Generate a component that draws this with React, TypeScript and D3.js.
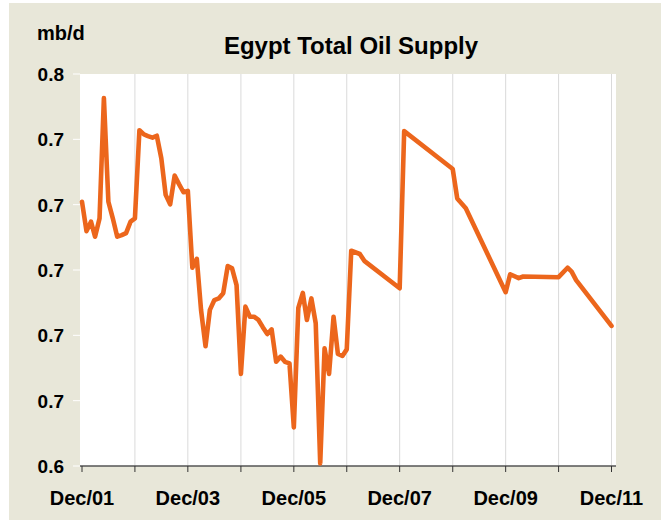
import React from 'react';
import * as d3 from 'd3';

// monthly observations (sparser after 2007)
const months = [
  '2001-12', '2002-01', '2002-02', '2002-03', '2002-04', '2002-05', '2002-06', '2002-07',
  '2002-08', '2002-09', '2002-10', '2002-11', '2002-12', '2003-01', '2003-02', '2003-03',
  '2003-04', '2003-05', '2003-06', '2003-07', '2003-08', '2003-09', '2003-10', '2003-11',
  '2003-12', '2004-01', '2004-02', '2004-03', '2004-04', '2004-05', '2004-06', '2004-07',
  '2004-08', '2004-09', '2004-10', '2004-11', '2004-12', '2005-01', '2005-02', '2005-03',
  '2005-04', '2005-05', '2005-06', '2005-07', '2005-08', '2005-09', '2005-10', '2005-11',
  '2005-12', '2006-01', '2006-02', '2006-03', '2006-04', '2006-05', '2006-06', '2006-07',
  '2006-08', '2006-09', '2006-10', '2006-11', '2006-12', '2007-01', '2007-03', '2007-04',
  '2007-12', '2008-01', '2008-12', '2009-01', '2009-03', '2009-12', '2010-01', '2010-03',
  '2010-04', '2010-12', '2011-02', '2011-03', '2011-04', '2011-12',
];

const supply = [
  0.7209, 0.7119, 0.7148, 0.7102, 0.7158, 0.7526, 0.7209, 0.7159,
  0.7102, 0.7107, 0.7113, 0.7148, 0.7158, 0.7428, 0.7415, 0.7410,
  0.7405, 0.7411, 0.7342, 0.7230, 0.7201, 0.7289, 0.7263, 0.7238,
  0.7242, 0.7007, 0.7034, 0.6878, 0.6767, 0.6878, 0.6908, 0.6913,
  0.6929, 0.7012, 0.7005, 0.6954, 0.6682, 0.6888, 0.6857, 0.6857,
  0.6847, 0.6825, 0.6804, 0.6818, 0.6719, 0.6735, 0.6719, 0.6714,
  0.6518, 0.6884, 0.6930, 0.6847, 0.6913, 0.6837, 0.6408, 0.6760,
  0.6682, 0.6857, 0.6743, 0.6737, 0.6757, 0.7059, 0.7049, 0.7028,
  0.6944, 0.7425, 0.7309, 0.7219, 0.7189, 0.6932, 0.6987, 0.6975,
  0.6980, 0.6978, 0.7007, 0.6995, 0.6969, 0.6829,
];

const yTicks = [0.64, 0.66, 0.68, 0.70, 0.72, 0.74, 0.76];
const xLabelYears = [2001, 2003, 2005, 2007, 2009, 2011];
const tickYears = d3.range(2001, 2012);

const parse = d3.timeParse('%Y-%m');
const fmtY = d3.format('.1f');
const fmtX = d3.timeFormat('Dec/%y');

const W = 661;
const H = 521;
const plot = { left: 80, right: 616, top: 74, bottom: 466 };

const App: React.FC = () => {
  const x = d3.scaleTime()
    .domain([new Date(2001, 11, 1), new Date(2011, 11, 1)])
    .range([82, 611.5]);
  const y = d3.scaleLinear().domain([0.64, 0.76]).range([plot.bottom, plot.top]);

  const points = months.map((m, i) => ({ date: parse(m) as Date, value: supply[i] }));
  const line = d3.line<{ date: Date; value: number }>()
    .x(d => x(d.date))
    .y(d => y(d.value));

  const font = '"Liberation Sans", Arial, sans-serif';

  return (
    <svg width={W} height={H} style={{ position: 'absolute', left: 0, top: 0, display: 'block' }}>
      <rect x={0} y={0} width={W} height={H} fill="#fff" />
      <rect x={9} y={3} width={W - 9} height={517} fill="#E8E7D9" />
      <rect x={plot.left} y={plot.top} width={plot.right - plot.left} height={plot.bottom - plot.top} fill="#fff" />

      {/* vertical gridlines */}
      {tickYears.slice(1).map(yr => (
        <line key={yr} x1={x(new Date(yr, 11, 1))} x2={x(new Date(yr, 11, 1))}
          y1={plot.top} y2={plot.bottom} stroke="#DADADA" strokeWidth={1} />
      ))}

      {/* y ticks */}
      {yTicks.map((t, i) => (
        <g key={i}>
          <line x1={plot.left - 7} x2={plot.left} y1={y(t)} y2={y(t)} stroke="#fff" strokeWidth={1} />
          <text x={64} y={y(t)} dy="0.36em" textAnchor="end" fontFamily={font}
            fontWeight="bold" fontSize={19} fill="#000">{fmtY(t)}</text>
        </g>
      ))}

      {/* x axis */}
      <line x1={plot.left} x2={plot.right} y1={plot.bottom} y2={plot.bottom} stroke="#555" strokeWidth={1.5} />
      {tickYears.map(yr => (
        <line key={yr} x1={x(new Date(yr, 11, 1))} x2={x(new Date(yr, 11, 1))}
          y1={plot.bottom} y2={plot.bottom + 6} stroke="#333" strokeWidth={1} />
      ))}
      {xLabelYears.map(yr => (
        <text key={yr} x={x(new Date(yr, 11, 1))} y={505} textAnchor="middle" fontFamily={font}
          fontWeight="bold" fontSize={20} fill="#000">{fmtX(new Date(yr, 11, 1))}</text>
      ))}

      <path d={line(points) || ''} fill="none" stroke="#EC661C" strokeWidth={4.6}
        strokeLinejoin="round" strokeLinecap="round" />

      <text x={351} y={54} textAnchor="middle" fontFamily={font} fontWeight="bold"
        fontSize={24} fill="#000">Egypt Total Oil Supply</text>
      <text x={37} y={40} fontFamily={font} fontWeight="bold" fontSize={20} fill="#000">mb/d</text>
    </svg>
  );
};

export default App;
